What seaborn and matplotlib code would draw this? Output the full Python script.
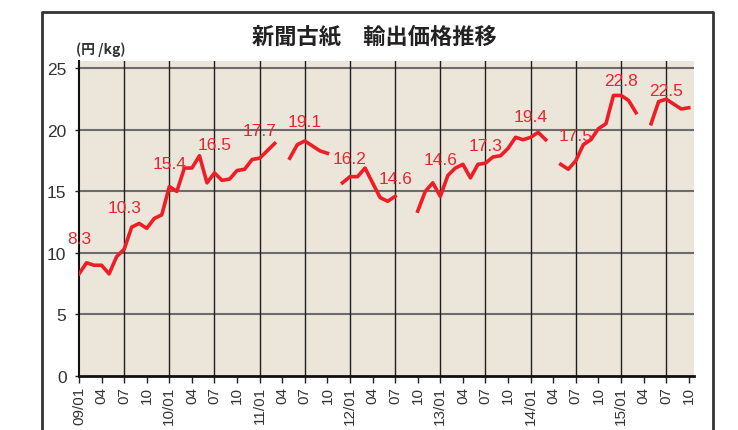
import numpy as np
import pandas as pd
import matplotlib.pyplot as plt
import seaborn as sns

# 輸出価格 (円/kg), 2009/01 - 2015/10, None = データなし
prices = [
    8.3, 9.2, 9.0, 9.0, 8.3, 9.7, 10.3, 12.1, 12.4, 12.0, 12.8, 13.1,   # 2009
    15.4, 15.0, 16.9, 16.9, 17.9, 15.7, 16.5, 15.9, 16.0, 16.7, 16.8, 17.6,  # 2010
    17.7, 18.3, 18.9, None, 17.7, 18.8, 19.1, 18.7, 18.3, 18.1, None, 15.7,  # 2011
    16.2, 16.2, 16.9, 15.7, 14.5, 14.2, 14.6, None, None, 13.4, 15.0, 15.7,  # 2012
    14.6, 16.3, 16.9, 17.2, 16.1, 17.2, 17.3, 17.8, 17.9, 18.5, 19.4, 19.2,  # 2013
    19.4, 19.8, 19.2, None, 17.2, 16.8, 17.5, 18.8, 19.2, 20.1, 20.5, 22.8,  # 2014
    22.8, 22.4, 21.4, None, 20.5, 22.3, 22.5, 22.1, 21.7, 21.8,              # 2015
]
start_year = 2009
# 数値ラベルを付ける月 (通し番号)
label_months = [0, 6, 12, 18, 24, 30, 36, 42, 48, 54, 60, 66, 72, 78]
# ラベルの上方向オフセット (px)
label_dy = [35, 42, 23, 28, 28, 19, 18, 18, 37, 18, 21, 25, 15, 9]

title = "新聞古紙　輸出価格推移"
unit = "(円 /kg)"

df = pd.DataFrame({"m": np.arange(len(prices)), "price": prices})
df["price"] = df["price"].astype(float)
df["seg"] = df["price"].isna().cumsum()
df_ok = df.dropna()

red = "#ee1d26"
num_font = ["Liberation Sans Narrow", "Liberation Sans", "DejaVu Sans"]
jp_font = ["Noto Sans CJK JP", "DejaVu Sans"]

fig = plt.figure(figsize=(7.38, 4.31), dpi=100)
ax = fig.add_axes([79 / 738, 54 / 431, 615 / 738, 315 / 431])
ax.set_facecolor("#ebe5da")

# grid
for y in range(5, 30, 5):
    ax.axhline(y, color="#6c6c6c", lw=1.5, zorder=1)
for m in range(6, len(prices) + 1, 6):
    ax.axvline(m, color="#202020", lw=1.0, zorder=1)

sns.lineplot(data=df_ok, x="m", y="price", units="seg", estimator=None,
             color=red, lw=2.6, ax=ax, zorder=3)

for m, dy in zip(label_months, label_dy):
    v = df.loc[m, "price"]
    ax.annotate(f"{v:.1f}", (m, v), xytext=(0, dy * 0.72), textcoords="offset points",
                ha="center", va="center", color="#e8262f", fontsize=12.5,
                family=num_font, zorder=4)

ax.set_xlim(0, 81.7)
ax.set_ylim(0, 25.6)
ax.set_yticks(range(0, 30, 5))
ax.set_yticklabels([str(t) for t in range(0, 30, 5)], family=num_font,
                   fontsize=12.5, color="#333333")

xt = list(range(0, len(prices), 3))
xl = []
for m in xt:
    yy, mm = divmod(m, 12)
    if mm == 0:
        xl.append(f"{(start_year + yy) % 100:02d}/01")
    else:
        xl.append(f"{mm + 1:02d}")
ax.set_xticks(xt)
ax.set_xticklabels(xl, rotation=90, family=num_font, fontsize=11, color="#333333")
ax.tick_params(axis="x", length=5, width=1, color="#222222", pad=2)
ax.tick_params(axis="y", length=3, width=1, color="#222222", pad=6)
ax.set_xlabel("")
ax.set_ylabel("")

for s in ["top", "right"]:
    ax.spines[s].set_visible(False)
ax.spines["left"].set_color("#111111")
ax.spines["left"].set_linewidth(1.5)
ax.spines["bottom"].set_color("#111111")
ax.spines["bottom"].set_linewidth(2)

fig.text(374 / 738, 1 - 37 / 431, title, ha="center", va="center",
         fontsize=16, fontweight="bold", family=jp_font, color="#222222")
fig.text(76 / 738, 1 - 50 / 431, unit, ha="left", va="center",
         fontsize=10, fontweight="bold", family=jp_font, color="#333333")

# 外枠
fig.add_artist(plt.Line2D([42 / 738, 42 / 738, 713 / 738, 713 / 738],
                          [0, 1 - 13 / 431, 1 - 13 / 431, 0],
                          transform=fig.transFigure, color="#333333", lw=2))

fig.savefig("out.png", dpi=100)
